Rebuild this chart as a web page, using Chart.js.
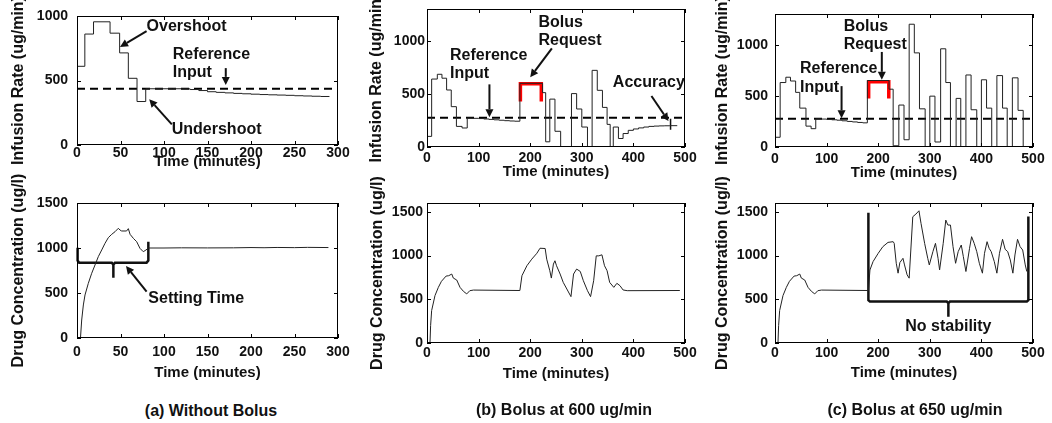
<!DOCTYPE html>
<html>
<head>
<meta charset="utf-8">
<script src="https://cdn.jsdelivr.net/npm/chart.js@4.4.0/dist/chart.umd.min.js"></script>
<style>
html, body { margin: 0; padding: 0; background: #fff; }
#fig { position: relative; width: 1052px; height: 423px; overflow: hidden; }
#fig canvas { position: absolute; }
.cap { position: absolute; font: bold 16px "Liberation Sans", Arial, sans-serif; color: #111;
       transform: translateX(-50%); white-space: nowrap; line-height: 16px; }
</style>
</head>
<body>
<div id="fig">
  <canvas id="a1"></canvas>
  <canvas id="b1"></canvas>
  <canvas id="c1"></canvas>
  <canvas id="a2"></canvas>
  <canvas id="b2"></canvas>
  <canvas id="c2"></canvas>
  <div class="cap" style="left:211px;top:403px">(a) Without Bolus</div>
  <div class="cap" style="left:564px;top:402px">(b) Bolus at 600 ug/min</div>
  <div class="cap" style="left:915px;top:402px">(c) Bolus at 650 ug/min</div>
</div>
<script>
const FONT = '"Liberation Sans", Arial, Helvetica, sans-serif';
const INK = '#111';

// tick labels
const xTicks300 = [0, 50, 100, 150, 200, 250, 300];
const xTicks500 = [0, 100, 200, 300, 400, 500];
const rateTicks = [0, 500, 1000];
const concTicks = [0, 500, 1000, 1500];

// (a) without bolus
const rateTimeA = [0, 9, 19, 38, 49, 59, 69, 79, 90, 100, 110, 120, 130, 140, 150, 160, 170, 180, 190, 200, 210, 220, 230, 240, 250, 260, 270, 280, 290];
const rateA = [610, 860, 955, 867, 714, 517, 337, 436, 436, 436, 436, 435, 430, 422, 413, 408, 404, 400, 397, 394, 391, 389, 387, 385, 382, 380, 378, 376, 374];
const refA = 436;
const concTimeA = [4, 5.4, 7.3, 9.2, 13, 16.9, 20.7, 24.5, 28.4, 32.2, 36, 39.9, 43.7, 47.5, 49.4, 51.3, 57, 59, 61, 64.8, 68.6, 72.4, 76.2, 79.3, 82, 100, 120, 150, 180, 200, 215, 230, 250, 265, 289];
const concA = [0, 200, 367, 478, 607, 719, 811, 904, 978, 1052, 1115, 1152, 1181, 1219, 1200, 1189, 1189, 1215, 1152, 1107, 1070, 996, 959, 978, 1000, 1000, 1002, 1001, 1002, 1005, 1003, 1006, 1004, 1007, 1005];

// (b) bolus at 600 ug/min
const rateTimeB = [0, 9, 20, 29, 38, 47, 57, 68, 78, 90, 100, 110, 120, 130, 140, 150, 160, 170, 180, 224, 230, 238, 248, 259, 280, 290, 300, 311, 320, 330, 340, 349, 355, 361, 371, 380, 390, 400, 410, 420, 430, 440, 450, 460, 470, 485];
const rateB = [100, 640, 685, 648, 537, 380, 194, 179, 272, 270, 268, 264, 260, 256, 252, 248, 245, 243, 600, 512, 49, 451, 148, 0, 503, 358, 188, 0, 722, 534, 373, 213, 0, 188, 80, 127, 157, 170, 180, 188, 194, 197, 199, 200, 201, 201];
const refB = 275;
const concTimeB = [5.8, 7, 9, 15.5, 22, 28, 37, 42, 48, 51, 57.6, 64, 70.5, 77, 83, 90, 180, 184, 193.6, 203, 213, 219, 229, 232, 238, 241, 245, 248, 251, 258, 264, 271, 279, 284, 290, 297, 303, 311, 317, 323, 328, 333, 339, 344, 349, 354, 362, 368, 374, 380, 388, 490];
const concB = [0, 200, 371, 542, 636, 705, 765, 769, 788, 742, 720, 636, 591, 561, 598, 605, 600, 769, 883, 958, 1026, 1083, 1080, 958, 826, 742, 902, 940, 883, 788, 693, 617, 530, 788, 845, 818, 712, 598, 530, 712, 996, 996, 1008, 883, 826, 693, 636, 682, 655, 606, 598, 600];

// (c) bolus at 650 ug/min
const rateTimeC = [0, 10, 21, 30, 40, 48, 60, 70, 79, 90, 100, 110, 120, 130, 140, 150, 160, 170, 179, 221, 229, 240, 250, 260, 270, 280, 291, 300, 310, 321, 331, 340, 351, 360, 370, 380, 391, 400, 410, 420, 430, 441, 450, 460, 471, 481];
const rateC = [95, 630, 682, 645, 534, 380, 204, 179, 275, 273, 270, 266, 262, 256, 250, 245, 240, 236, 650, 565, 12, 410, 71, 1200, 920, 373, 0, 497, 49, 960, 630, 0, 475, 0, 704, 364, 0, 657, 380, 0, 698, 380, 0, 676, 358, 0];
const refC = 275;
const concTimeC = [5.8, 7, 9, 15.5, 22, 28, 37, 42, 48, 51, 57.6, 64, 70.5, 77, 83, 90, 181, 184, 190, 200, 209, 219, 229, 231, 235, 238.5, 242, 248, 251, 256, 260, 267, 273, 279, 283, 290, 296, 299, 306, 311, 316, 319, 326, 331, 335, 340, 345, 350, 355, 361, 365, 370, 377, 381, 386, 391, 396, 402, 406, 411, 415, 419, 425, 430, 435, 441, 446, 451, 456, 461, 465, 470, 475, 480, 485, 488];
const concC = [0, 200, 371, 542, 636, 705, 765, 769, 788, 742, 720, 636, 591, 561, 598, 605, 600, 835, 930, 1025, 1101, 1150, 1158, 1139, 911, 798, 919, 968, 892, 779, 741, 1443, 1473, 1511, 1367, 1139, 968, 892, 1044, 1139, 968, 835, 1139, 1405, 1348, 1348, 1101, 911, 1044, 1120, 987, 817, 1082, 1215, 1139, 1044, 911, 798, 1025, 1158, 1082, 1044, 930, 798, 1025, 1185, 1071, 1044, 949, 798, 1006, 1185, 1101, 1063, 892, 817];

// annotation marks, in data units [time, value]
const bolusB = [[181, 429], [181, 597], [221.5, 597], [221.5, 429]];
const bolusC = [[181.5, 475], [181.5, 638], [220.5, 638], [220.5, 475]];
const accuracyTick = [[472, 265], [472, 163]];
const settleBrace = [[0.7, 1004], [0.7, 860], [2.5, 837], [40, 837], [41.8, 815], [41.8, 670], [41.8, 815], [43.6, 837], [80, 837], [82, 860], [82, 1070]];
const noStabBrace = [[181, 1490], [181, 490], [184, 473], [333, 473], [336, 455], [336, 300], [336, 455], [339, 473], [488, 473], [491, 490], [491, 1445]];

function pts(xs, ys) { return xs.map((x, i) => ({ x: x, y: ys[i] })); }
function pairs(list) { return list.map(p => ({ x: p[0], y: p[1] })); }
function flat(v, x1) { return [{ x: 0, y: v }, { x: x1, y: v }]; }

function trace(data, extra) {
    return Object.assign({
        data: data,
        borderColor: '#222',
        borderWidth: 1,
        pointRadius: 0,
        fill: false,
        tension: 0
    }, extra || {});
}
function refLine(v, x1) {
    return trace(flat(v, x1), { borderColor: '#000', borderWidth: 2, borderDash: [8, 5] });
}
function mark(list, color, width) {
    return trace(pairs(list), { borderColor: color, borderWidth: width, clip: 8, borderJoinStyle: 'miter' });
}

// frame, inward ticks, arrows and labels
function framePlugin(notes) {
    return {
        id: 'frame',
        afterDatasetsDraw(chart) {
            const ctx = chart.ctx, a = chart.chartArea;
            const xs = chart.scales.x, ys = chart.scales.y;
            ctx.save();
            ctx.strokeStyle = '#000';
            ctx.lineWidth = 1;
            ctx.strokeRect(a.left + 0.5, a.top + 0.5, a.right - a.left - 1, a.bottom - a.top - 1);
            ctx.beginPath();
            xs.ticks.forEach(t => {
                const px = Math.round(xs.getPixelForValue(t.value)) + 0.5;
                ctx.moveTo(px, a.bottom); ctx.lineTo(px, a.bottom - 4);
                ctx.moveTo(px, a.top); ctx.lineTo(px, a.top + 4);
            });
            ys.ticks.forEach(t => {
                const py = Math.round(ys.getPixelForValue(t.value)) + 0.5;
                ctx.moveTo(a.left, py); ctx.lineTo(a.left + 4, py);
                ctx.moveTo(a.right, py); ctx.lineTo(a.right - 4, py);
            });
            ctx.stroke();

            ctx.strokeStyle = INK;
            ctx.fillStyle = INK;
            ctx.lineWidth = 2;
            (notes.arrows || []).forEach(ar => {
                const x0 = xs.getPixelForValue(ar[0]), y0 = ys.getPixelForValue(ar[1]);
                const x1 = xs.getPixelForValue(ar[2]), y1 = ys.getPixelForValue(ar[3]);
                const ang = Math.atan2(y1 - y0, x1 - x0);
                const len = 8, half = 4;
                const bx = x1 - len * Math.cos(ang), by = y1 - len * Math.sin(ang);
                ctx.beginPath();
                ctx.moveTo(x0, y0); ctx.lineTo(bx, by);
                ctx.stroke();
                ctx.beginPath();
                ctx.moveTo(x1, y1);
                ctx.lineTo(bx + half * Math.sin(ang), by - half * Math.cos(ang));
                ctx.lineTo(bx - half * Math.sin(ang), by + half * Math.cos(ang));
                ctx.closePath();
                ctx.fill();
            });

            ctx.font = 'bold 16px ' + FONT;
            ctx.textBaseline = 'middle';
            (notes.texts || []).forEach(n => {
                ctx.textAlign = n[3] || 'center';
                ctx.fillText(n[0], xs.getPixelForValue(n[1]), ys.getPixelForValue(n[2]));
            });
            ctx.restore();
        }
    };
}

function drawPanel(id, p) {
    const cv = document.getElementById(id);
    cv.width = p.w;
    cv.height = p.h;
    cv.style.left = p.left + 'px';
    cv.style.top = p.top + 'px';
    const tickFont = { family: FONT, size: 14, weight: 'bold', lineHeight: 1 };
    new Chart(cv, {
        type: 'line',
        data: { datasets: p.datasets },
        options: {
            responsive: false,
            animation: false,
            events: [],
            layout: { padding: { top: p.padTop, right: p.padRight, left: 0, bottom: 0 } },
            plugins: { legend: { display: false }, tooltip: { enabled: false } },
            scales: {
                x: {
                    type: 'linear',
                    min: 0,
                    max: p.xMax,
                    afterBuildTicks: s => { s.ticks = p.xTicks.map(v => ({ value: v })); },
                    afterFit: s => { s.height = p.xh; },
                    grid: { display: false, drawTicks: false },
                    border: { display: false },
                    ticks: { padding: p.xTickPad, color: INK, font: tickFont, maxRotation: 0, autoSkip: false, callback: v => String(v) },
                    title: {
                        display: true, text: 'Time (minutes)', color: INK,
                        font: { family: FONT, size: 15, weight: 'bold', lineHeight: 1 },
                        padding: { top: 0, bottom: p.xTitlePad }
                    }
                },
                y: {
                    type: 'linear',
                    min: 0,
                    max: p.yMax,
                    afterBuildTicks: s => { s.ticks = p.yTicks.map(v => ({ value: v })); },
                    afterFit: s => { s.width = 77; },
                    grid: { display: false, drawTicks: false },
                    border: { display: false },
                    ticks: { padding: p.yTickPad, color: INK, font: tickFont, callback: v => String(v) },
                    title: {
                        display: true, text: p.yTitle, color: INK,
                        font: { family: FONT, size: 16, weight: 'bold', lineHeight: 1 },
                        padding: { top: p.yTitlePad, bottom: 0 }
                    }
                }
            }
        },
        plugins: [framePlugin(p.notes || {})]
    });
}

const RATE_TITLE = 'Infusion Rate (ug/min)';
const CONC_TITLE = 'Drug Concentration (ug/l)';

drawPanel('a1', {
    left: 0, top: 0, w: 358, h: 185, padTop: 9, padRight: 20, xh: 40,
    xMax: 300, xTicks: xTicks300, yMax: 1000, yTicks: rateTicks,
    xTickPad: 1, xTitlePad: 16, yTickPad: 9, yTitlePad: 11, yTitle: RATE_TITLE,
    datasets: [
        trace(pts(rateTimeA, rateA), { stepped: true }),
        refLine(refA, 300)
    ],
    notes: {
        texts: [['Overshoot', 126, 919], ['Reference', 110, 703, 'left'], ['Input', 110, 564, 'left'], ['Undershoot', 160.5, 123]],
        arrows: [[80, 882, 49.4, 760], [171, 596, 171, 466], [109, 160, 83, 355]]
    }
});

drawPanel('b1', {
    left: 350, top: 0, w: 355, h: 187, padTop: 7, padRight: 20, xh: 40,
    xMax: 500, xTicks: xTicks500, yMax: 1300, yTicks: rateTicks,
    xTickPad: 4, xTitlePad: 8, yTickPad: 2, yTitlePad: 18.5, yTitle: RATE_TITLE,
    datasets: [
        trace(pts(rateTimeB, rateB), { stepped: true }),
        refLine(refB, 500),
        mark(bolusB, '#ff0000', 3.5),
        mark(accuracyTick, '#111', 1.5)
    ],
    notes: {
        texts: [['Reference', 44.6, 861, 'left'], ['Input', 44.6, 688, 'left'], ['Bolus', 216, 1176, 'left'], ['Request', 216, 1006, 'left'], ['Accuracy', 430, 605]],
        arrows: [[121, 590, 121, 281], [242, 929, 200, 657], [435, 481, 468, 244]]
    }
});

drawPanel('c1', {
    left: 698, top: 0, w: 354, h: 187, padTop: 7, padRight: 19, xh: 40,
    xMax: 500, xTicks: xTicks500, yMax: 1300, yTicks: rateTicks,
    xTickPad: 5, xTitlePad: 6.5, yTickPad: 7, yTitlePad: 17, yTitle: RATE_TITLE,
    datasets: [
        trace(pts(rateTimeC, rateC), { stepped: true }),
        refLine(refC, 500),
        mark(bolusC, '#ff0000', 3.5)
    ],
    notes: {
        texts: [['Reference', 48.4, 769, 'left'], ['Input', 48.4, 583, 'left'], ['Bolus', 133, 1176, 'left'], ['Request', 133, 997, 'left']],
        arrows: [[129, 595, 129, 281], [207, 929, 207, 657]]
    }
});

drawPanel('a2', {
    left: 0, top: 165, w: 358, h: 218, padTop: 38, padRight: 20, xh: 45,
    xMax: 300, xTicks: xTicks300, yMax: 1500, yTicks: concTicks,
    xTickPad: 7.5, xTitlePad: 2.5, yTickPad: 9, yTitlePad: 10.5, yTitle: CONC_TITLE,
    datasets: [
        trace(pts(concTimeA, concA)),
        mark(settleBrace, '#111', 2.5)
    ],
    notes: {
        texts: [['Setting Time', 137, 433]],
        arrows: [[80, 514, 56.3, 800]]
    }
});

drawPanel('b2', {
    left: 350, top: 165, w: 355, h: 223, padTop: 38, padRight: 20, xh: 45,
    xMax: 500, xTicks: xTicks500, yMax: 1600, yTicks: concTicks,
    xTickPad: 3, xTitlePad: 7, yTickPad: 4, yTitlePad: 20, yTitle: CONC_TITLE,
    datasets: [
        trace(pts(concTimeB, concB))
    ]
});

drawPanel('c2', {
    left: 698, top: 165, w: 354, h: 223, padTop: 38, padRight: 19, xh: 45,
    xMax: 500, xTicks: xTicks500, yMax: 1600, yTicks: concTicks,
    xTickPad: 3, xTitlePad: 7.5, yTickPad: 7, yTitlePad: 17, yTitle: CONC_TITLE,
    datasets: [
        trace(pts(concTimeC, concC)),
        mark(noStabBrace, '#111', 2.5)
    ],
    notes: {
        texts: [['No stability', 336, 187]]
    }
});
</script>
</body>
</html>
